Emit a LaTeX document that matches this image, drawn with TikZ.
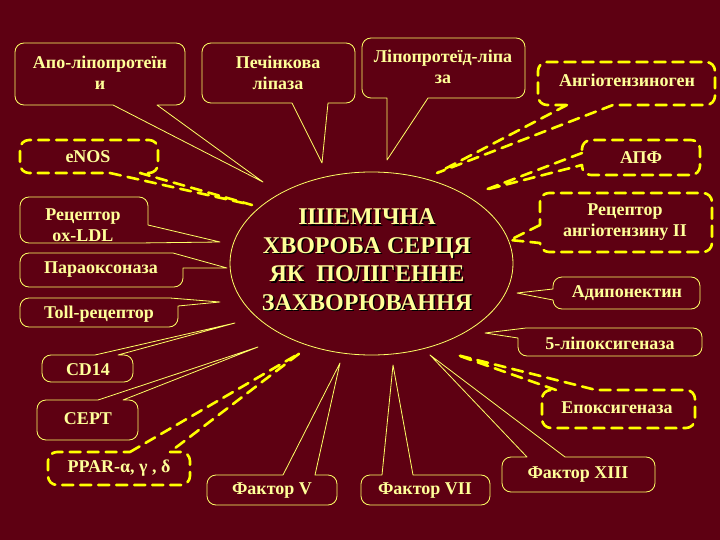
\documentclass[tikz,border=0pt]{standalone}
\usepackage{fontspec}
\setmainfont{Liberation Serif}
\usetikzlibrary{shapes.geometric}

\definecolor{bgmaroon}{HTML}{5E0012}
\definecolor{paleyellow}{HTML}{FFFF99}
\definecolor{lineyellow}{HTML}{FFFF66}
\definecolor{dashyellow}{HTML}{FFFF00}

\begin{document}
\begin{tikzpicture}[x=1pt,y=-1pt,line cap=round,line join=round,
  thinbox/.style={draw=lineyellow,line width=.8pt},
  dashbox/.style={draw=dashyellow,line width=2.6pt,dash pattern=on 11pt off 7pt},
  boxtext/.style={text=paleyellow,font=\bfseries\fontsize{18}{21}\selectfont,align=center,inner sep=0pt},
  titletext/.style={font=\bfseries\fontsize{24}{28.5}\selectfont,align=center,inner sep=0pt}]
\path[use as bounding box] (0,0) rectangle (720,540);
\fill[bgmaroon] (0,0) rectangle (720,540);

% centre
\node[ellipse,thinbox,minimum width=283pt,minimum height=183pt] (ihd) at (371.5,263.5) {};
\node[titletext,text=black] (ihdshadow) at (368.5,261) {ІШЕМІЧНА\\ХВОРОБА СЕРЦЯ\\ЯК\ \ ПОЛІГЕННЕ\\ЗАХВОРЮВАННЯ};
\node[titletext,text=paleyellow] (ihdtitle) at (367,259.5) {ІШЕМІЧНА\\ХВОРОБА СЕРЦЯ\\ЯК\ \ ПОЛІГЕННЕ\\ЗАХВОРЮВАННЯ};

% left column
\draw[thinbox] (113,105) -- (263,182) -- (157,105) [rounded corners=9pt] -- (185,105) -- (185,43) -- (15,43) -- (15,105) -- (113,105);
\node[boxtext] (apo) at (100,73) {Апо-ліпопротеїн\\и};

\draw[dashbox] (110,173) -- (252,205) -- (140,173) [rounded corners=9pt] -- (158,173) -- (158,140) -- (20,140) -- (20,173) -- (110,173);
\node[boxtext] (enos) at (88,157) {eNOS};

\draw[thinbox] (148,225) -- (220,242) -- (138,243) [rounded corners=9pt] -- (20,243) -- (20,197) -- (148,197) -- (148,225);
\node[boxtext] (oxldl) at (83,225) {Рецептор\\ox-LDL};

\draw[thinbox] (183,268) -- (227,268) -- (173,253) [rounded corners=9pt] -- (20,253) -- (20,287) -- (183,287) -- (183,268);
\node[boxtext] (pon) at (101,270) {Параоксоназа};

\draw[thinbox] (178,306) -- (220,302) -- (170,298) [rounded corners=9pt] -- (20,298) -- (20,327) -- (178,327) -- (178,306);
\node[boxtext] (toll) at (99,314) {Toll-рецептор};

\draw[thinbox] (95,355) -- (235,323) -- (118,355) [rounded corners=9pt] -- (133,355) -- (133,382) -- (42,382) -- (42,355) -- (95,355);
\node[boxtext] (cd) at (88,370) {CD14};

\draw[thinbox] (98,400) -- (258,347) -- (123,400) [rounded corners=9pt] -- (138,400) -- (138,440) -- (37,440) -- (37,400) -- (98,400);
\node[boxtext] (cetp) at (88,419) {CEPT};

\draw[dashbox] (130,452) -- (300,353) -- (170,452) [rounded corners=9pt] -- (190,452) -- (190,485) -- (48,485) -- (48,452) -- (130,452);
\node[boxtext] (ppar) at (119,468) {PPAR-α, γ , δ};

% bottom row
\draw[thinbox] (283,475) -- (340,363) -- (315,475) [rounded corners=9pt] -- (337,475) -- (337,505) -- (207,505) -- (207,475) -- (283,475);
\node[boxtext] (fv) at (272,491) {Фактор V};

\draw[thinbox] (382,475) -- (393,365) -- (413,475) [rounded corners=9pt] -- (490,475) -- (490,505) -- (361,505) -- (361,475) -- (382,475);
\node[boxtext] (fvii) at (425,491) {Фактор VII};

\draw[thinbox] (527,457) -- (430,355) -- (565,457) [rounded corners=9pt] -- (655,457) -- (655,492) -- (502,492) -- (502,457) -- (527,457);
\node[boxtext] (fxiii) at (578,475) {Фактор XIII};

% top row
\draw[thinbox] (292,103) -- (322,163) -- (328,103) [rounded corners=9pt] -- (355,103) -- (355,43) -- (202,43) -- (202,103) -- (292,103);
\node[boxtext] (hl) at (278,73) {Печінкова\\ліпаза};

\draw[thinbox] (387,98) -- (387,160) -- (428,98) [rounded corners=9pt] -- (525,98) -- (525,38) -- (362,38) -- (362,98) -- (387,98);
\node[boxtext] (lpl) at (443,67) {Ліпопротеїд-ліпа\\за};

% right column
\draw[dashbox] (567,105) -- (437,173) -- (613,105) [rounded corners=9pt] -- (715,105) -- (715,62) -- (538,62) -- (538,105) -- (567,105);
\node[boxtext] (agt) at (627,80) {Ангіотензиноген};

\draw[dashbox] (582,153) -- (485,190) -- (582,165) [rounded corners=9pt] -- (582,175) -- (700,175) -- (700,140) -- (582,140) -- (582,153);
\node[boxtext] (ace) at (641,158) {АПФ};

\draw[dashbox] (540,225) -- (510,240) -- (540,243) [rounded corners=9pt] -- (540,252) -- (712,252) -- (712,193) -- (540,193) -- (540,225);
\node[boxtext] (agtr) at (625,222) {Рецептор\\ангіотензину ІІ};

\draw[thinbox] (553,289) -- (517,293) -- (553,300) [rounded corners=9pt] -- (553,309) -- (700,309) -- (700,277) -- (553,277) -- (553,289);
\node[boxtext] (adipo) at (627,293) {Адипонектин};

\draw[thinbox] (518,338) -- (485,333) -- (526,328) [rounded corners=9pt] -- (702,328) -- (702,356) -- (518,356) -- (518,338);
\node[boxtext] (lox) at (610,343) {5-ліпоксигеназа};

\draw[dashbox] (556,390) -- (457,355) -- (596,390) [rounded corners=9pt] -- (695,390) -- (695,428) -- (542,428) -- (542,390) -- (556,390);
\node[boxtext] (epox) at (617,408) {Епоксигеназа};
\end{tikzpicture}
\end{document}
